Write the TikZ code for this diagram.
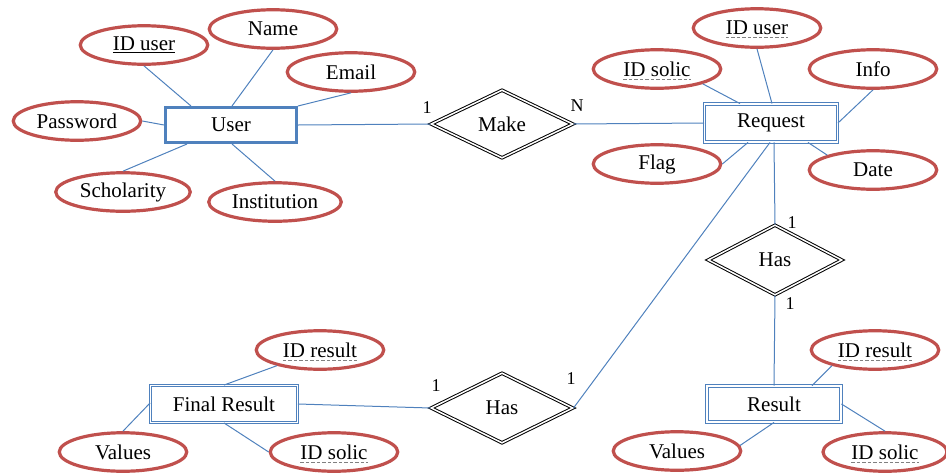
\documentclass[tikz,border=0pt]{standalone}
\usepackage{fontspec}
\setmainfont{Liberation Serif}
\usetikzlibrary{shapes.geometric}
\definecolor{ered}{RGB}{192,80,77}
\definecolor{eblue}{RGB}{79,129,189}
\begin{document}
\begin{tikzpicture}[x=1pt,y=-1pt,
  lbl/.style={font=\fontsize{21}{25}\selectfont},
  attr/.style={ellipse, draw=ered, line width=3.2pt, minimum width=127.5pt, minimum height=38.5pt, inner sep=0pt, lbl},
  weakent/.style={rectangle, draw=eblue, double=white, double distance=1.6pt, line width=0.9pt, inner sep=0pt, lbl},
  strongent/.style={rectangle, draw=eblue, line width=3pt, inner sep=0pt, lbl},
  rel/.style={diamond, draw=black, double=white, double distance=1.5pt, line width=1pt, inner sep=0pt, lbl},
  con/.style={draw=eblue, line width=1pt},
  card/.style={font=\fontsize{18}{21}\selectfont, inner sep=0pt},
  txt/.style={inner sep=0pt, lbl},
  dul/.style={draw=gray, dash pattern=on 3.5pt off 2pt, line width=0.9pt}
]
\useasboundingbox (0,0) rectangle (946,472);

% ---------------- User ----------------
\node[strongent, minimum width=131pt, minimum height=35pt] (user) at (231,125) {User};
\node[attr] (iduser) at (144,45) {\underline{ID user}};
\node[attr] (name) at (273,29) {Name};
\node[attr] (email) at (351,72) {Email};
\node[attr] (password) at (77,121) {Password};
\node[attr, minimum width=134.5pt] (scholarity) at (123,192) {Scholarity};
\node[attr, minimum width=132.5pt] (institution) at (275,202) {Institution};

\draw[con] (iduser.south) -- ([xshift=-40pt]user.north);
\draw[con] (name.south) -- ([xshift=1pt]user.north);
\draw[con] (email.south) -- (user.north east);
\draw[con] (password.east) -- (user.west);
\draw[con] (scholarity.north) -- ([xshift=-44pt]user.south);
\draw[con] (institution.north) -- ([xshift=1pt]user.south);

% ---------------- Make ----------------
\node[rel, minimum width=142pt, minimum height=68pt] (make) at (502,124) {Make};
\draw[con] (user.east) -- (make.west);

% ---------------- Request ----------------
\node[weakent, minimum width=133pt, minimum height=38pt] (request) at (771,123) {Request};
\draw[con] (make.east) -- (request.west);
\node[card] (c1) at (427,108) {1};
\node[card] (cN) at (577,106) {N};

\node[attr] (ridu) at (757,28) {};
\node[txt] (ridut) at (ridu) {ID user};
\draw[dul] ([yshift=-3pt]ridut.base west) -- ([yshift=-3pt]ridut.base east);
\node[attr] (rids) at (657,69) {};
\node[txt] (ridst) at (rids) {ID solic};
\draw[dul] ([yshift=-3pt]ridst.base west) -- ([yshift=-3pt]ridst.base east);
\node[attr] (info) at (873,69) {Info};
\node[attr] (flag) at (657,164) {Flag};
\node[attr] (date) at (873,170) {Date};

\draw[con] (ridu.south) -- ([xshift=1pt]request.north);
\draw[con] (rids.-18) -- ([xshift=-31pt]request.north);
\draw[con] (info.south) -- (request.east);
\draw[con] (flag.east) -- ([xshift=-23pt]request.south);
\draw[con] (date.162) -- ([xshift=37pt]request.south);

% ---------------- Has (Request - Result) ----------------
\node[rel, minimum width=134pt, minimum height=70pt] (has1) at (775,260) {Has};
\draw[con] ([xshift=3pt]request.south) -- (has1.north);
\node[card] (c2) at (792,223) {1};
\node[card] (c3) at (790,304) {1};

% ---------------- Result ----------------
\node[weakent, minimum width=134pt, minimum height=36pt] (result) at (774,404) {Result};
\draw[con] (has1.south) -- (result.north);
\node[attr] (rres) at (875,350) {};
\node[txt] (rrest) at (rres) {ID result};
\draw[dul] ([yshift=-3pt]rrest.base west) -- ([yshift=-3pt]rrest.base east);
\node[attr] (rval) at (677,451) {Values};
\node[attr, minimum width=124pt] (rsol) at (885,452) {};
\node[txt] (rsolt) at (rsol) {ID solic};
\draw[dul] ([yshift=-3pt]rsolt.base west) -- ([yshift=-3pt]rsolt.base east);

\draw[con] (rres.200) -- ([xshift=38pt]result.north);
\draw[con] (rval.5) -- (result.south);
\draw[con] (rsol.north) -- (result.east);

% ---------------- Has (Final Result - Request) ----------------
\node[rel, minimum width=142pt, minimum height=70pt] (has2) at (502,408) {Has};
\draw[con] ([xshift=-1pt]request.south) -- (has2.east);
\node[card] (c4) at (436,386) {1};
\node[card] (c5) at (571,379) {1};

% ---------------- Final Result ----------------
\node[weakent, minimum width=147pt, minimum height=37pt] (fr) at (224,404) {Final Result};
\draw[con] (fr.east) -- (has2.west);
\node[attr] (fres) at (320,350) {};
\node[txt] (frest) at (fres) {ID result};
\draw[dul] ([yshift=-3pt]frest.base west) -- ([yshift=-3pt]frest.base east);
\node[attr] (fval) at (123,452) {Values};
\node[attr] (fsol) at (334,452) {};
\node[txt] (fsolt) at (fsol) {ID solic};
\draw[dul] ([yshift=-3pt]fsolt.base west) -- ([yshift=-3pt]fsolt.base east);

\draw[con] (fres.200) -- (fr.north);
\draw[con] (fval.north) -- ([yshift=1pt]fr.west);
\draw[con] (fsol.west) -- (fr.south);
\end{tikzpicture}
\end{document}
